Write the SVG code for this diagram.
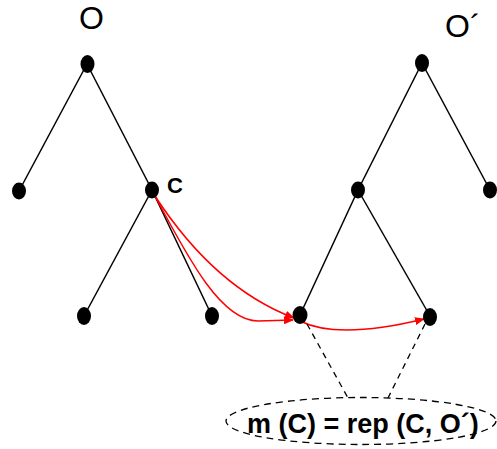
<svg xmlns="http://www.w3.org/2000/svg" width="497" height="449" viewBox="0 0 497 449">
<style>
.edge{stroke:#000;stroke-width:1.5;fill:none}
.red{stroke:#ff0000;stroke-width:1.5;fill:none;marker-end:url(#ah)}
.dash{stroke:#000;stroke-width:1.3;fill:none;stroke-dasharray:6,5}
.node{fill:#000}
.lbl{font-family:"Liberation Sans",Arial,sans-serif;fill:#000}
</style>
<defs>
<marker id="ah" viewBox="0 0 10 8" refX="9" refY="4" markerWidth="10" markerHeight="8" markerUnits="userSpaceOnUse" orient="auto">
<path d="M0,0 L10,4 L0,8 Z" fill="#ff0000"/>
</marker>
</defs>
<rect width="497" height="449" fill="#fff"/>
<g id="connectors">
<line class="edge" x1="87" y1="64" x2="19" y2="191"/>
<line class="edge" x1="87" y1="64" x2="152" y2="190"/>
<line class="edge" x1="152" y1="190" x2="84" y2="316"/>
<line class="edge" x1="152" y1="190" x2="212" y2="316"/>
<line class="edge" x1="422" y1="63" x2="358" y2="190"/>
<line class="edge" x1="422" y1="63" x2="490" y2="190"/>
<line class="edge" x1="358" y1="190" x2="300" y2="315"/>
<line class="edge" x1="358" y1="190" x2="430" y2="316"/>
<path class="red" d="M155,196 Q215,288 294,318"/>
<path class="red" d="M155,196 C190,262 222,321 258,321 L293,320"/>
<path class="red" d="M300,321 Q338,340 424,319"/>
<line class="dash" x1="307" y1="324" x2="348" y2="398"/>
<line class="dash" x1="425" y1="324" x2="388" y2="398"/>
</g>
<g id="node-O-root"><ellipse class="node" cx="87.5" cy="64" rx="7" ry="9"/></g>
<g id="node-O-left"><ellipse class="node" cx="19" cy="191" rx="7" ry="8.5"/></g>
<g id="node-C"><ellipse class="node" cx="152" cy="190" rx="7" ry="8.5"/></g>
<g id="node-C-left"><ellipse class="node" cx="84" cy="316" rx="7" ry="9"/></g>
<g id="node-C-right"><ellipse class="node" cx="212" cy="316" rx="7" ry="9"/></g>
<g id="node-O2-root"><ellipse class="node" cx="422" cy="63" rx="7" ry="9"/></g>
<g id="node-O2-left"><ellipse class="node" cx="358" cy="190" rx="7" ry="8.5"/></g>
<g id="node-O2-right"><ellipse class="node" cx="490" cy="190" rx="7" ry="8.5"/></g>
<g id="node-O2-ll"><ellipse class="node" cx="300" cy="315" rx="7.5" ry="9"/></g>
<g id="node-O2-lr"><ellipse class="node" cx="430" cy="317" rx="7" ry="9"/></g>
<g id="labels">
<text class="lbl" x="91.5" y="29" font-size="32" text-anchor="middle">O</text>
<text class="lbl" x="445" y="37" font-size="32">O´</text>
<text class="lbl" x="167" y="193" font-size="22" font-weight="bold">C</text>
</g>
<g id="node-formula">
<ellipse cx="361" cy="421" rx="135" ry="23.5" fill="none" stroke="#000" stroke-width="1.3" stroke-dasharray="7,5"/>
<text class="lbl" x="247" y="433" font-size="27" font-weight="bold">m (C) = rep (C, O´)</text>
</g>
</svg>
